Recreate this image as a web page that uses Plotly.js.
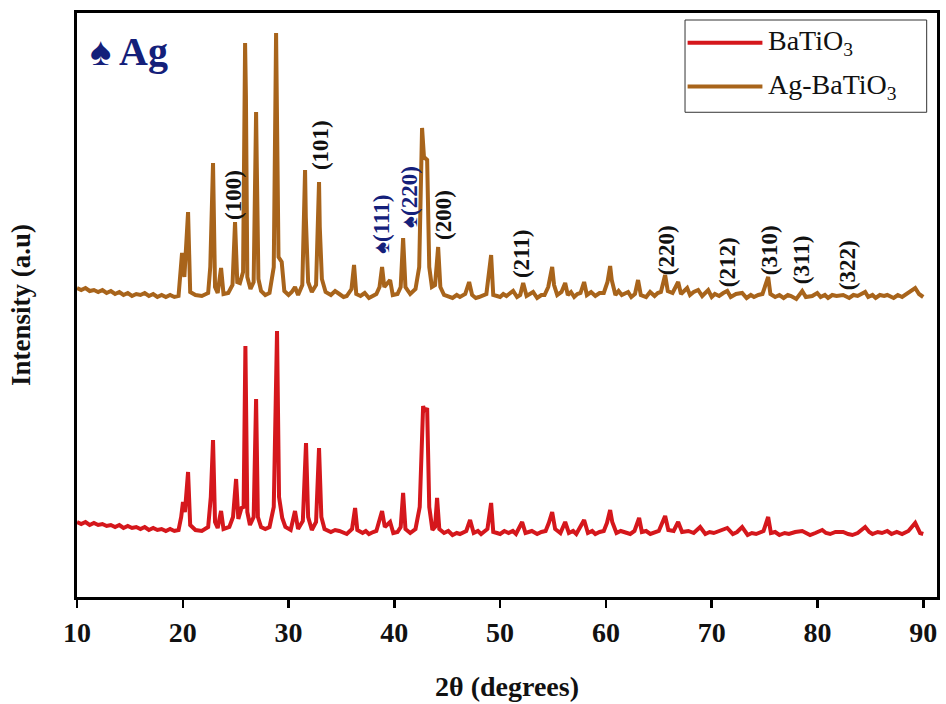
<!DOCTYPE html>
<html>
<head>
<meta charset="utf-8">
<script src="https://cdn.plot.ly/plotly-3.0.1.min.js"></script>
<style>html,body{margin:0;padding:0;background:#fff;}#chart{width:946px;height:704px;}</style>
</head>
<body>
<div id="chart"></div>
<script>
// Ag-BaTiO3 pattern (2θ in degrees, intensity a.u.)
const agX = [10.0,10.4,10.8,11.2,11.6,12.0,12.4,12.8,13.2,13.6,14.0,14.4,14.8,15.2,15.6,16.0,16.4,16.8,17.2,17.6,18.0,18.4,18.8,19.2,19.6,19.75,19.93,20.15,20.5,20.7,21.2,21.8,22.4,22.6,22.86,23.05,23.3,23.62,23.85,24.3,24.7,24.94,25.15,25.4,25.7,25.89,25.97,26.1,26.4,26.7,26.93,27.0,27.15,27.4,27.8,28.2,28.6,28.82,28.9,29.05,29.35,29.6,30.0,30.3,30.61,30.9,31.3,31.56,31.63,31.85,32.2,32.6,32.88,32.95,33.15,33.5,34.0,34.4,34.8,35.2,35.5,35.95,36.19,36.4,36.8,37.2,37.6,38.0,38.3,38.6,38.84,39.05,39.6,39.85,40.3,40.6,40.83,41.05,41.5,42.0,42.35,42.62,42.8,43.1,43.3,43.55,43.85,44.14,44.35,44.7,45.1,45.5,45.9,46.2,46.7,47.07,47.35,47.7,48.0,48.4,48.7,49.15,49.35,49.7,50.0,50.3,50.6,51.23,51.6,51.9,52.18,52.5,53.12,53.5,53.9,54.2,54.55,54.92,55.1,55.4,55.8,56.15,56.4,56.7,57.0,57.3,57.6,57.94,58.2,58.6,59.0,59.4,59.8,60.15,60.4,60.55,60.9,61.2,61.5,62.1,62.4,62.75,63.04,63.3,63.8,64.18,64.6,64.9,65.2,65.6,65.85,66.3,66.83,67.1,67.68,67.95,68.3,68.72,69.1,69.67,70.0,70.3,70.7,71.1,71.47,71.8,72.3,72.88,73.3,73.7,74.0,74.4,74.8,75.34,75.55,76.0,76.4,76.8,77.2,77.5,78.0,78.56,78.9,79.5,79.98,80.3,80.7,81.0,81.4,81.8,82.43,83.0,83.4,83.8,84.51,84.8,85.2,85.5,85.9,86.3,86.6,87.2,87.6,88.0,88.6,89.24,89.6,90.0];
const agY = [309,307,309,306,307,305,307,304,306,303,305,302,304,301,303,302,304,301,303,300,302,300,302,300,301,320,344,320,385,305,302,301,304,330,434,310,304,329,303,304,312,375,315,314,325,554,500,320,308,315,485,429,318,306,302,304,330,564,482,340,335,306,302,305,310,302,312,427,380,315,305,312,415,370,318,305,302,306,303,300,301,308,332,303,301,304,299,301,303,310,330,310,317,302,303,310,359,310,303,308,330,469,440,437,330,310,312,350,310,302,300,299,302,300,303,315,302,299,300,302,303,342,302,301,300,303,301,306,300,302,314,301,305,299,302,302,310,330,312,302,305,314,302,305,300,303,304,315,302,305,301,304,304,315,331,317,302,306,302,305,300,303,317,302,300,305,301,304,305,322,306,304,315,303,309,302,305,307,301,307,300,303,301,304,306,300,303,304,299,302,300,302,303,320,303,300,302,299,302,301,298,306,300,301,304,300,302,299,302,301,302,299,302,301,305,300,302,299,302,301,302,299,302,300,304,309,303,300];

// BaTiO3 pattern
const btX = [10.0,10.4,10.8,11.2,11.6,12.0,12.4,12.8,13.2,13.6,14.0,14.4,14.8,15.2,15.6,16.0,16.4,16.8,17.2,17.6,18.0,18.4,18.8,19.2,19.6,19.85,20.02,20.2,20.5,20.7,21.2,21.8,22.4,22.65,22.86,23.05,23.3,23.62,23.85,24.4,24.75,25.04,25.25,25.55,25.75,25.92,26.1,26.35,26.7,26.93,27.1,27.4,27.8,28.2,28.6,28.91,29.1,29.4,29.7,30.2,30.61,30.9,31.35,31.65,31.85,32.2,32.6,32.88,33.1,33.4,34.0,34.4,34.8,35.2,35.5,36.0,36.29,36.5,37.0,37.3,37.6,38.0,38.3,38.84,39.1,39.6,39.9,40.3,40.6,40.83,41.05,41.5,42.0,42.4,42.72,42.9,43.1,43.3,43.6,43.85,44.04,44.25,44.7,45.1,45.5,45.9,46.2,46.8,47.16,47.5,47.9,48.2,48.8,49.15,49.35,49.7,50.0,50.4,50.8,51.2,51.5,52.08,52.4,53.0,53.5,53.9,54.3,54.6,54.92,55.2,55.7,56.15,56.5,56.9,57.2,57.94,58.3,58.7,59.0,59.4,59.8,60.1,60.4,60.6,61.0,61.4,61.7,62.3,62.7,63.14,63.4,63.8,64.2,64.6,65.0,65.6,65.9,66.4,66.83,67.2,67.8,68.3,68.91,69.4,69.8,70.2,70.8,71.47,72.0,72.4,72.88,73.4,73.8,74.2,74.9,75.34,75.6,76.0,76.4,76.9,77.3,77.9,78.56,79.0,79.3,79.8,80.45,80.8,81.2,81.7,82.43,82.9,83.3,83.8,84.51,84.9,85.2,85.7,86.1,86.6,87.0,87.5,88.0,88.6,89.24,89.7,90.0];
const btY = [75,73,75,72,74,72,73,71,72,70,72,69,71,69,70,68,70,67,69,67,68,66,68,66,67,80,95,85,125,72,67,66,70,100,157,75,69,86,68,70,80,118,78,89,90,251,85,72,80,198,80,70,68,70,90,266,100,79,70,67,86,68,76,154,80,67,75,149,80,68,65,67,66,64,63,68,89,67,64,66,63,65,66,86,70,75,64,65,70,104,68,64,68,90,191,185,189,90,67,70,99,68,64,66,62,64,63,66,77,64,66,63,68,94,65,64,63,66,64,66,63,75,64,66,63,65,66,74,85,68,64,75,64,66,63,77,64,66,63,65,66,74,87,75,64,66,65,63,66,79,65,66,63,65,66,81,67,66,75,65,66,64,70,63,65,64,66,69,63,65,70,62,64,63,66,80,64,65,62,64,63,65,66,64,62,64,67,64,63,65,65,63,62,64,70,65,63,65,64,66,63,65,63,66,74,64,63];

// Miller index labels
const hklText = ["(100)","(101)","(200)","(211)","(220)","(212)","(310)","(311)","(322)"];
const hklX    = [24.75, 32.98, 44.6, 51.98, 65.7, 71.47, 75.44, 78.46, 82.81];
const hklY    = [402, 452, 382, 343, 347, 335, 347, 337, 332];
// Ag reflections
const agText = ["\u2660(111)","\u2660(220)"];
const agLX   = [38.75, 41.4];
const agLY   = [373, 400];

const serif = "Liberation Serif, serif";
const navy = "#14207a";

const seriesNames  = ["BaTiO<sub>3</sub>", "Ag-BaTiO<sub>3</sub>"];
const seriesColors = ["#d5171c", "#a8641b"];

const traces = [
  {x: btX, y: btY, type: "scatter", mode: "lines", name: seriesNames[0],
   line: {color: seriesColors[0], width: 4}},
  {x: agX, y: agY, type: "scatter", mode: "lines", name: seriesNames[1],
   line: {color: seriesColors[1], width: 4}}
];

const ann = [];
hklText.forEach((t, i) => ann.push({x: hklX[i], y: hklY[i], xref: "x", yref: "y", text: t,
  textangle: -90, showarrow: false, font: {family: serif, size: 23, weight: "bold", color: "#111"}}));
agText.forEach((t, i) => ann.push({x: agLX[i], y: agLY[i], xref: "x", yref: "y", text: t,
  textangle: -90, showarrow: false, font: {family: serif, size: 23, weight: "bold", color: navy}}));
ann.push({x: 11.0, y: 546, xref: "x", yref: "y", xanchor: "left", yanchor: "middle",
  text: "\u2660 Ag", showarrow: false, font: {family: serif, size: 40, weight: "bold", color: navy}});

// custom legend (long line samples as in the reference)
const shapes = [
  {type: "rect", xref: "paper", yref: "paper", x0: 0.707, x1: 0.988, y0: 0.830, y1: 0.988,
   line: {color: "#333", width: 1}, fillcolor: "#fff", layer: "above"}
];
const legRowY = [0.949, 0.874];
seriesNames.forEach((n, i) => {
  shapes.push({type: "line", xref: "paper", yref: "paper", x0: 0.710, x1: 0.797,
    y0: legRowY[i], y1: legRowY[i], line: {color: seriesColors[i], width: 4}, layer: "above"});
  ann.push({x: 0.801, y: legRowY[i], xref: "paper", yref: "paper", xanchor: "left", yanchor: "middle",
    text: n, showarrow: false, font: {family: serif, size: 28, color: "#111"}});
});

const layout = {
  width: 946, height: 704,
  margin: {l: 77, r: 9, t: 13, b: 107},
  paper_bgcolor: "#fff", plot_bgcolor: "#fff",
  showlegend: false,
  xaxis: {range: [10, 91.3], showgrid: false, zeroline: false,
    showline: true, mirror: true, linecolor: "#000", linewidth: 3,
    ticks: "outside", ticklen: 8, tickwidth: 2.5, tickcolor: "#000",
    tickvals: [10,20,30,40,50,60,70,80,90],
    tickfont: {family: serif, size: 28, weight: "bold", color: "#111"},
    title: {text: "2\u03b8 (degrees)", standoff: 30,
      font: {family: serif, size: 28, weight: "bold", color: "#111"}}},
  yaxis: {range: [0, 584], showgrid: false, zeroline: false,
    showline: true, mirror: true, linecolor: "#000", linewidth: 3,
    ticks: "", showticklabels: false,
    title: {text: "Intensity (a.u)", standoff: 36,
      font: {family: serif, size: 27, weight: "bold", color: "#111"}}},
  annotations: ann,
  shapes: shapes
};

Plotly.newPlot("chart", traces, layout, {staticPlot: true, displayModeBar: false});
</script>
</body>
</html>
